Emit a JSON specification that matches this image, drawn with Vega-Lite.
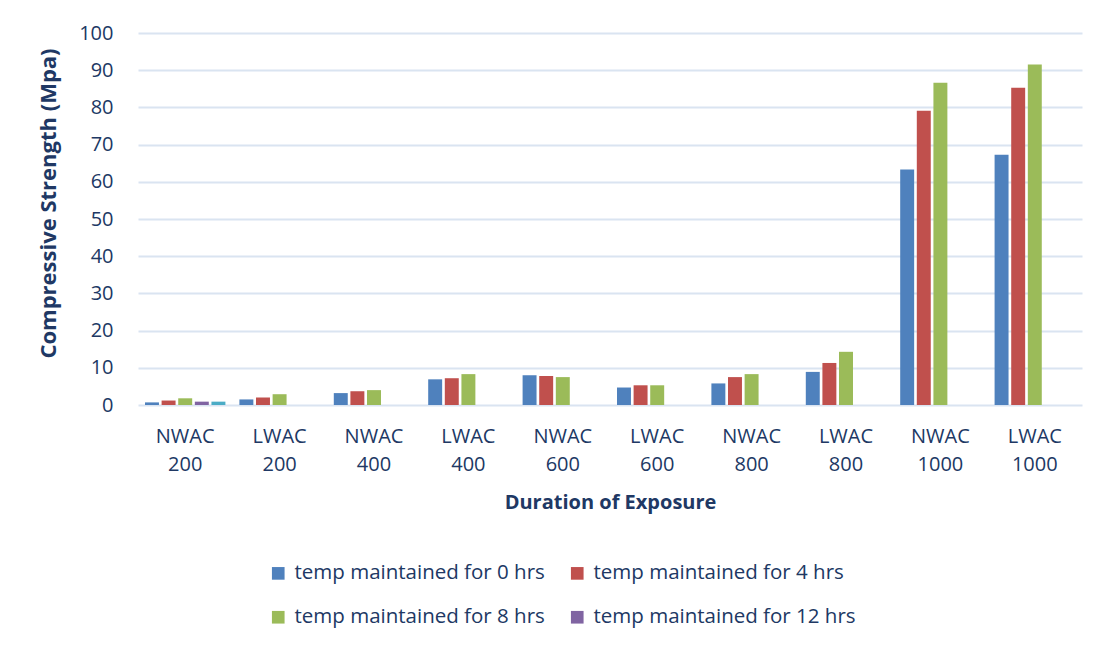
{
  "$schema": "https://vega.github.io/schema/vega-lite/v6.json",
  "autosize": "none",
  "width": 944,
  "height": 372,
  "padding": {"left": 138, "top": 33, "right": 18, "bottom": 244},
  "background": "white",
  "config": {
    "view": {"stroke": null},
    "font": "Open Sans",
    "axis": {"labelColor": "#203864", "titleColor": "#203864", "labelFont": "Open Sans", "titleFont": "Open Sans"},
    "legend": {"labelColor": "#203864", "labelFont": "Open Sans"}
  },
  "data": {
    "values": [
      {"category": "NWAC 200", "series": "temp maintained for 0 hrs", "value": 0.7},
      {"category": "NWAC 200", "series": "temp maintained for 4 hrs", "value": 1.2},
      {"category": "NWAC 200", "series": "temp maintained for 8 hrs", "value": 1.8},
      {"category": "NWAC 200", "series": "temp maintained for 12 hrs", "value": 0.9},
      {"category": "NWAC 200", "series": "temp maintained for 16 hrs", "value": 0.9},
      {"category": "LWAC 200", "series": "temp maintained for 0 hrs", "value": 1.5},
      {"category": "LWAC 200", "series": "temp maintained for 4 hrs", "value": 2.0},
      {"category": "LWAC 200", "series": "temp maintained for 8 hrs", "value": 2.9},
      {"category": "NWAC 400", "series": "temp maintained for 0 hrs", "value": 3.2},
      {"category": "NWAC 400", "series": "temp maintained for 4 hrs", "value": 3.7},
      {"category": "NWAC 400", "series": "temp maintained for 8 hrs", "value": 4.0},
      {"category": "LWAC 400", "series": "temp maintained for 0 hrs", "value": 6.9},
      {"category": "LWAC 400", "series": "temp maintained for 4 hrs", "value": 7.2},
      {"category": "LWAC 400", "series": "temp maintained for 8 hrs", "value": 8.3},
      {"category": "NWAC 600", "series": "temp maintained for 0 hrs", "value": 8.0},
      {"category": "NWAC 600", "series": "temp maintained for 4 hrs", "value": 7.8},
      {"category": "NWAC 600", "series": "temp maintained for 8 hrs", "value": 7.5},
      {"category": "LWAC 600", "series": "temp maintained for 0 hrs", "value": 4.7},
      {"category": "LWAC 600", "series": "temp maintained for 4 hrs", "value": 5.3},
      {"category": "LWAC 600", "series": "temp maintained for 8 hrs", "value": 5.3},
      {"category": "NWAC 800", "series": "temp maintained for 0 hrs", "value": 5.8},
      {"category": "NWAC 800", "series": "temp maintained for 4 hrs", "value": 7.5},
      {"category": "NWAC 800", "series": "temp maintained for 8 hrs", "value": 8.3},
      {"category": "LWAC 800", "series": "temp maintained for 0 hrs", "value": 8.9},
      {"category": "LWAC 800", "series": "temp maintained for 4 hrs", "value": 11.3},
      {"category": "LWAC 800", "series": "temp maintained for 8 hrs", "value": 14.3},
      {"category": "NWAC 1000", "series": "temp maintained for 0 hrs", "value": 63.3},
      {"category": "NWAC 1000", "series": "temp maintained for 4 hrs", "value": 79.1},
      {"category": "NWAC 1000", "series": "temp maintained for 8 hrs", "value": 86.6},
      {"category": "LWAC 1000", "series": "temp maintained for 0 hrs", "value": 67.3},
      {"category": "LWAC 1000", "series": "temp maintained for 4 hrs", "value": 85.3},
      {"category": "LWAC 1000", "series": "temp maintained for 8 hrs", "value": 91.5}
    ]
  },
  "mark": {"type": "bar"},
  "encoding": {
    "x": {
      "field": "category",
      "type": "nominal",
      "sort": null,
      "scale": {"paddingInner": 0.12, "paddingOuter": 0.06},
      "axis": {
        "title": "Duration of Exposure",
        "titleFontSize": 20,
        "titleFontWeight": "bold",
        "titlePadding": 18,
        "labelAngle": 0,
        "labelFontSize": 20,
        "labelLineHeight": 28,
        "labelPadding": 21,
        "labelExpr": "split(datum.label, ' ')",
        "ticks": false,
        "domain": false,
        "grid": false
      }
    },
    "xOffset": {
      "field": "series",
      "type": "nominal",
      "scale": {
        "domain": ["temp maintained for 0 hrs", "temp maintained for 4 hrs", "temp maintained for 8 hrs", "temp maintained for 12 hrs", "temp maintained for 16 hrs"],
        "paddingInner": 0.16,
        "paddingOuter": 0.08
      }
    },
    "y": {
      "field": "value",
      "type": "quantitative",
      "scale": {"domain": [0, 100], "nice": false},
      "axis": {
        "title": "Compressive Strength (Mpa)",
        "titleFontSize": 22,
        "titleFontWeight": "bold",
        "titlePadding": 18,
        "titleY": 170,
        "values": [0, 10, 20, 30, 40, 50, 60, 70, 80, 90, 100],
        "labelFontSize": 20,
        "labelPadding": 25,
        "ticks": false,
        "domain": false,
        "grid": true,
        "gridColor": "#DAE4F1",
        "gridWidth": 2
      }
    },
    "color": {
      "field": "series",
      "type": "nominal",
      "scale": {
        "domain": ["temp maintained for 0 hrs", "temp maintained for 4 hrs", "temp maintained for 8 hrs", "temp maintained for 12 hrs", "temp maintained for 16 hrs"],
        "range": ["#4F81BD", "#C0504D", "#9BBB59", "#8064A2", "#4BACC6"]
      },
      "legend": {
        "title": null,
        "values": ["temp maintained for 0 hrs", "temp maintained for 4 hrs", "temp maintained for 8 hrs", "temp maintained for 12 hrs"],
        "orient": "none",
        "direction": "horizontal",
        "legendX": 130,
        "legendY": 530,
        "columns": 2,
        "columnPadding": 22,
        "rowPadding": 23,
        "padding": 0,
        "symbolType": "square",
        "symbolSize": 160,
        "symbolStrokeWidth": 0,
        "labelFontSize": 20.5,
        "labelOffset": 6,
        "labelLimit": 400
      }
    }
  }
}
